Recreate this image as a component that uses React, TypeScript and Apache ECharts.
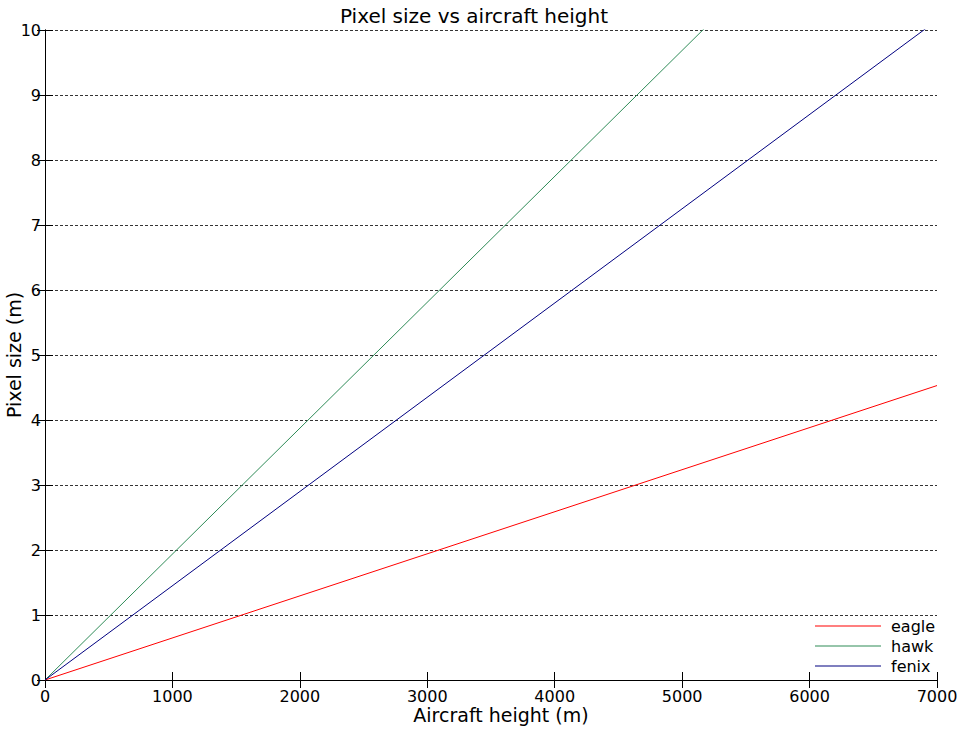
import React, { useEffect, useRef } from "react";
import * as echarts from "echarts";

const seriesNames = ["eagle", "hawk", "fenix"];
const seriesColors = ["#ff0000", "#2e8b57", "#000080"];
const xPoints = [0, 7000];
const eagleValues = [0, 4.53];
const hawkValues = [0, 13.56];
const fenixValues = [0, 10.15];
const xTicks = [0, 1000, 2000, 3000, 4000, 5000, 6000, 7000];
const yTicks = [0, 1, 2, 3, 4, 5, 6, 7, 8, 9, 10];

const FONT = "DejaVu Sans";

export default function App() {
  const ref = useRef<HTMLDivElement>(null);
  useEffect(() => {
    if (!ref.current) return;
    const chart = echarts.init(ref.current, undefined, { renderer: "svg" });
    const valueSets = [eagleValues, hawkValues, fenixValues];
    const tickCommon = {
      axisLine: { show: true, lineStyle: { color: "#000", width: 1 } },
      axisTick: { show: true, inside: true, length: 8, lineStyle: { color: "#000", width: 1 } },
    };
    chart.setOption({
      animation: false,
      backgroundColor: "#fff",
      title: {
        text: "Pixel size vs aircraft height",
        left: 335,
        top: 1,
        textStyle: { fontFamily: FONT, fontSize: 20, fontWeight: "normal", color: "#000" },
      },
      grid: { left: 45, right: 26, top: 30, bottom: 50, show: false },
      legend: {
        orient: "vertical",
        left: 815,
        top: 617,
        padding: 0,
        itemWidth: 66,
        itemHeight: 1,
        itemGap: 2,
        icon: "rect",
        data: seriesNames,
        textStyle: { fontFamily: FONT, fontSize: 16, color: "#000", lineHeight: 18, padding: [0, 0, 0, 5] },
      },
      xAxis: [
        {
          type: "value",
          min: xTicks[0],
          max: xTicks[xTicks.length - 1],
          interval: 1000,
          position: "bottom",
          ...tickCommon,
          axisLabel: { color: "#000", fontFamily: FONT, fontSize: 16, margin: 8, formatter: (v: number) => String(v) },
          splitLine: { show: false },
        },
        {
          type: "value",
          min: xTicks[0],
          max: xTicks[xTicks.length - 1],
          interval: 1000,
          position: "top",
          ...tickCommon,
          axisLabel: { show: false },
          splitLine: { show: false },
        },
      ],
      yAxis: [
        {
          type: "value",
          min: yTicks[0],
          max: yTicks[yTicks.length - 1],
          interval: 1,
          position: "left",
          ...tickCommon,
          axisLabel: { color: "#000", fontFamily: FONT, fontSize: 16, margin: 4, formatter: (v: number) => String(v) },
          splitLine: { show: true, lineStyle: { color: "#000", width: 0.8, type: [3, 2] } },
        },
        {
          type: "value",
          min: yTicks[0],
          max: yTicks[yTicks.length - 1],
          interval: 1,
          position: "right",
          ...tickCommon,
          axisLabel: { show: false },
          splitLine: { show: false },
        },
      ],
      graphic: [
        {
          type: "text",
          x: 501,
          y: 715,
          style: {
            text: "Aircraft height (m)",
            font: `19px "${FONT}"`,
            fill: "#000",
            align: "center",
            verticalAlign: "middle",
          },
        },
        {
          type: "text",
          x: 14,
          y: 355,
          rotation: Math.PI / 2,
          style: {
            text: "Pixel size (m)",
            font: `19px "${FONT}"`,
            fill: "#000",
            align: "center",
            verticalAlign: "middle",
          },
        },
      ],
      series: seriesNames.map((name, i) => ({
        name,
        type: "line",
        xAxisIndex: 0,
        yAxisIndex: 0,
        showSymbol: false,
        symbol: "none",
        clip: true,
        color: seriesColors[i],
        lineStyle: { color: seriesColors[i], width: 1 },
        itemStyle: { color: seriesColors[i] },
        data: xPoints.map((x, j) => [x, valueSets[i][j]]),
      })),
    });
    return () => chart.dispose();
  }, []);
  return <div ref={ref} style={{ width: 963, height: 730, position: "absolute", left: 0, top: 0 }} />;
}
